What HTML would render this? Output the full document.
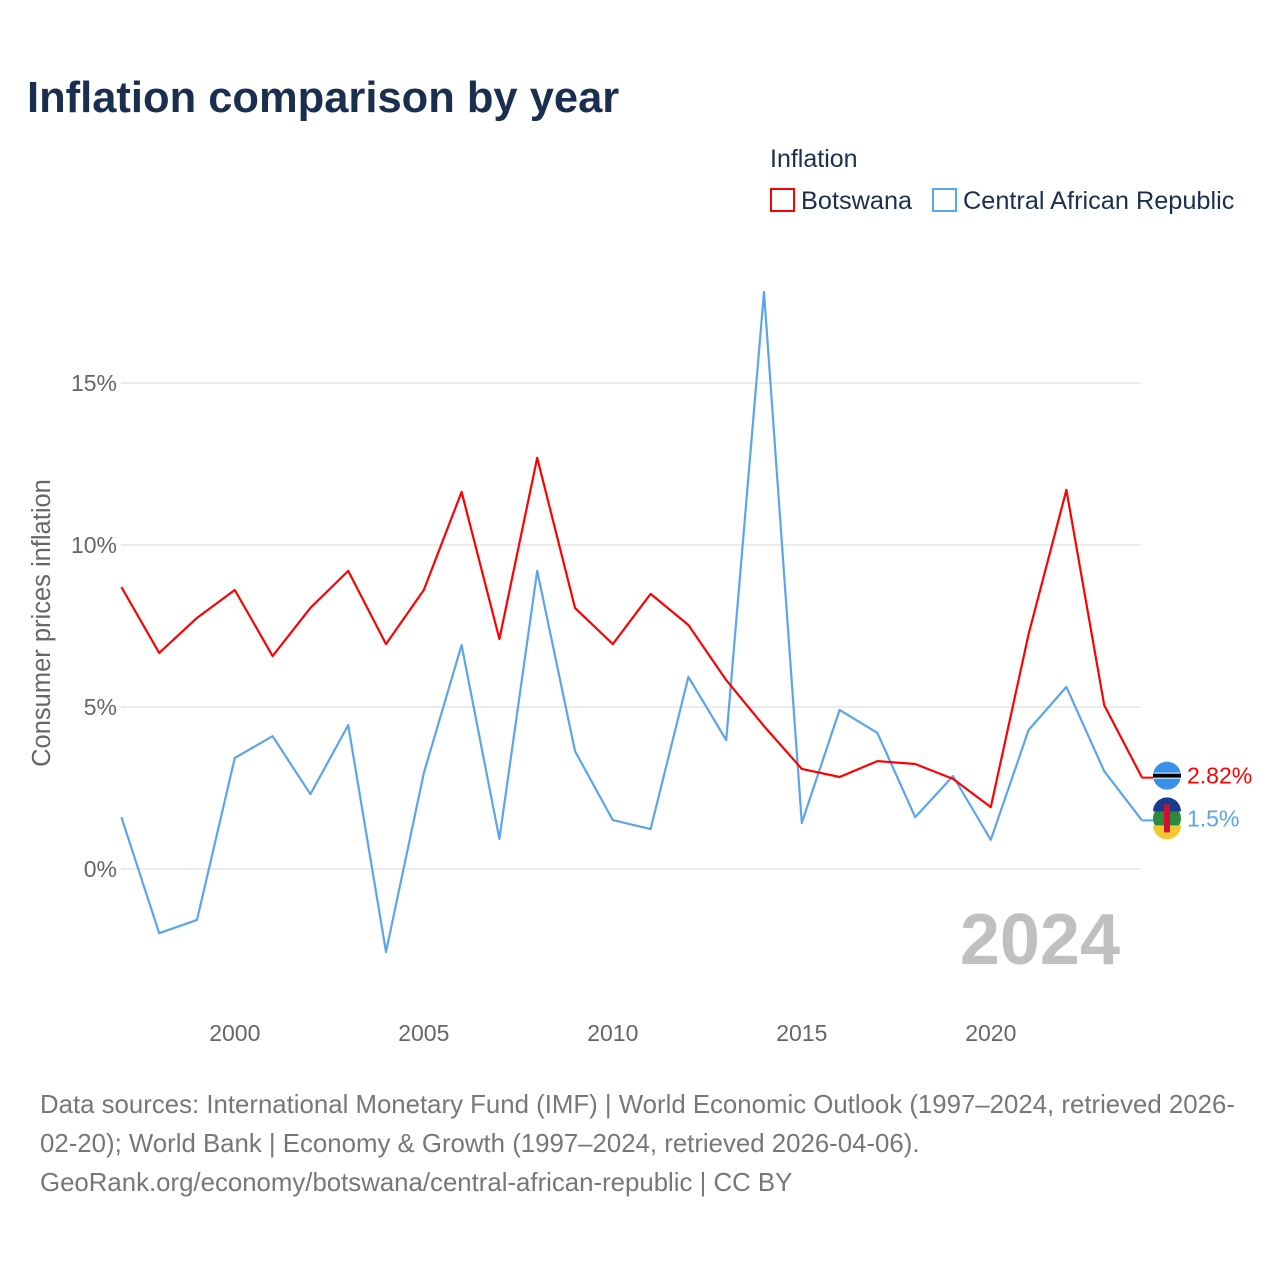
<!DOCTYPE html>
<html><head><meta charset="utf-8">
<style>
body{margin:0;background:#fff;font-family:"Liberation Sans",sans-serif;}
#wrap{position:relative;width:1280px;height:1280px;overflow:hidden;}
</style></head>
<body>
<div id="wrap">
<svg id="chart" width="1280" height="1280" xmlns="http://www.w3.org/2000/svg">
<text x="27" y="112" font-size="43.5" font-weight="bold" fill="#1a2e50">Inflation comparison by year</text>
<text x="770" y="167" font-size="25" fill="#1a2e50">Inflation</text>
<g>
<rect x="771" y="189" width="23" height="22" fill="none" stroke="#ff0000" stroke-width="2"/>
<text x="801" y="209" font-size="25.3" fill="#1a2e50">Botswana</text></g>
<g>
<rect x="933" y="189" width="23" height="22" fill="none" stroke="#5aa5ec" stroke-width="2"/>
<text x="963" y="209" font-size="25.3" fill="#1a2e50">Central African Republic</text></g>
<g id="grid"></g>
<text transform="translate(50,623) rotate(-90)" text-anchor="middle" font-size="25.5" fill="#666">Consumer prices inflation</text>
<text x="1120" y="964" text-anchor="end" font-size="72" font-weight="bold" fill="#c0c0c0">2024</text>
<g id="series"></g>
<text x="40" y="1113" font-size="25.8" fill="#777">Data sources: International Monetary Fund (IMF) | World Economic Outlook (1997–2024, retrieved 2026-</text>
<text x="40" y="1152" font-size="25.8" fill="#777">02-20); World Bank | Economy &amp; Growth (1997–2024, retrieved 2026-04-06).</text>
<text x="40" y="1191" font-size="25.8" fill="#777">GeoRank.org/economy/botswana/central-african-republic | CC BY</text>
</svg>
</div>
<script>
const years=[1997,1998,1999,2000,2001,2002,2003,2004,2005,2006,2007,2008,2009,2010,2011,2012,2013,2014,2015,2016,2017,2018,2019,2020,2021,2022,2023,2024];
const botswana=[8.70,6.67,7.75,8.61,6.57,8.06,9.20,6.94,8.61,11.64,7.10,12.69,8.06,6.94,8.49,7.53,5.83,4.41,3.09,2.84,3.33,3.24,2.78,1.91,7.25,11.70,5.06,2.82];
const car=[1.60,-1.98,-1.57,3.43,4.10,2.31,4.44,-2.56,2.96,6.91,0.93,9.20,3.64,1.51,1.23,5.93,3.98,17.81,1.42,4.91,4.20,1.60,2.87,0.90,4.29,5.62,3.02,1.50];
const yTicks=[0,5,10,15];
const xTicks=[2000,2005,2010,2015,2020];
const NS='http://www.w3.org/2000/svg';
const xS=y=>121.4+(y-1997)*37.8;
const yS=v=>869-v*32.4;
function mk(t,a,p){const e=document.createElementNS(NS,t);for(const k in a)e.setAttribute(k,a[k]);p.appendChild(e);return e;}
const grid=document.getElementById('grid');
yTicks.forEach(t=>{
 const l=mk('line',{x1:121,x2:1141,y1:yS(t),y2:yS(t),stroke:'#e6e6e6','stroke-width':1.5},grid);
 
 
 const tx=mk('text',{x:117,y:yS(t)+8,'text-anchor':'end','font-size':23,fill:'#666'},grid);
 tx.textContent=t+'%';
 
 
});
xTicks.forEach(t=>{
 const tx=mk('text',{x:xS(t),y:1041,'text-anchor':'middle','font-size':23,fill:'#666'},grid);
 tx.textContent=t;
 
 
});
const ser=document.getElementById('series');
function line(vals,color,name){
 const d=vals.map((v,i)=>(i?'L':'M')+xS(years[i]).toFixed(1)+' '+yS(v).toFixed(1)).join(' ');
 const p=mk('path',{d:d,fill:'none',stroke:color,'stroke-width':2.2,'stroke-linejoin':'round'},ser);
 
 
}
line(car,'#5aa5ec','line-car');
line(botswana,'#ff0000','line-botswana');
function endLabel(vals,color,name,flag){
 const v=vals[vals.length-1];const y=yS(v);const x=xS(years[years.length-1]);
 const l=mk('line',{x1:x,x2:x+12,y1:y,y2:y,stroke:color,'stroke-width':2},ser);
 
 
 const g=mk('g',{},ser);
 
 
 const cy=y-2;
 if(flag==='bw'){
  mk('circle',{cx:x+25,cy:cy,r:14,fill:'#3a8fe8'},g);
  mk('rect',{x:x+11,y:cy-3,width:28,height:6,fill:'#fff'},g);
  mk('rect',{x:x+11,y:cy-2,width:28,height:4,fill:'#000'},g);
 } else {
  mk('circle',{cx:x+25,cy:cy,r:14,fill:'#2d8a3c'},g);
  mk('path',{d:`M${x+11} ${cy-7} A14 14 0 0 1 ${x+39} ${cy-7} Z`,fill:'#1a3a8f'},g);
  mk('path',{d:`M${x+11} ${cy+7} L${x+39} ${cy+7} A14 14 0 0 1 ${x+11} ${cy+7} Z`,fill:'#f2c832'},g);
  mk('rect',{x:x+22,y:cy-14,width:6,height:28,fill:'#d21034'},g);
 }
 const t=mk('text',{x:x+45,y:y+6,'font-size':23,fill:color},ser);
 t.textContent=(Math.round(v*100)/100)+'%';
 
 
}
endLabel(botswana,'#ff0000','botswana','bw');
endLabel(car,'#5aa5ec','car','car');
</script>
</body></html>
